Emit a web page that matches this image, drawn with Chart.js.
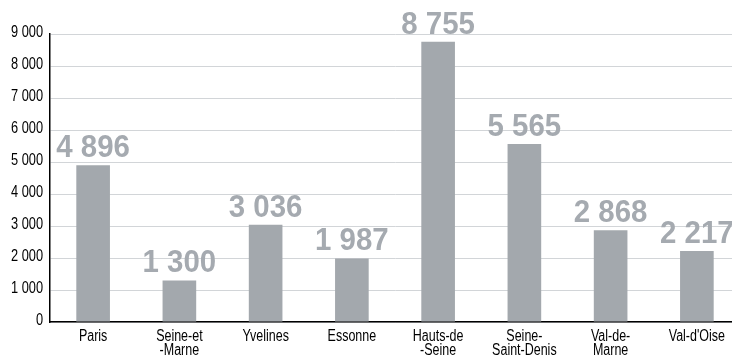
<!DOCTYPE html>
<html>
<head>
<meta charset="utf-8">
<script src="https://cdn.jsdelivr.net/npm/chart.js@4.4.1/dist/chart.umd.min.js"></script>
<style>
    html, body { margin: 0; padding: 0; background: #fff; overflow: hidden; }
    #wrap { width: 740px; height: 358px; }
</style>
</head>
<body>
<div id="wrap"><canvas id="deptChart"></canvas></div>
<script>
const departements = [
    ['Paris'], ['Seine-et', '-Marne'], ['Yvelines'], ['Essonne'],
    ['Hauts-de', '-Seine'], ['Seine-', 'Saint-Denis'], ['Val-de-', 'Marne'], ["Val-d'Oise"]
];
const effectifs = [4896, 1300, 3036, 1987, 8755, 5565, 2868, 2217];
const yTicks = [0, 1000, 2000, 3000, 4000, 5000, 6000, 7000, 8000, 9000];

const barGrey = '#a3a8ad';

// thousands with a space, french style
function fmt(n) {
    return String(n).replace(/\B(?=(\d{3})+(?!\d))/g, ' ');
}

// draw text squeezed horizontally (no condensed face available)
function narrowText(ctx, text, x, y, squeeze) {
    ctx.save();
    ctx.translate(x, y);
    ctx.scale(squeeze, 1);
    ctx.fillText(text, 0, 0);
    ctx.restore();
}

// axis labels in a narrow face, placed from the chart scales
const narrowTicks = {
    id: 'narrowTicks',
    afterDraw(chart) {
        const ctx = chart.ctx;
        const xs = chart.scales.x;
        const ys = chart.scales.y;
        ctx.save();
        ctx.fillStyle = '#000';
        ctx.font = '16px "Liberation Sans", Arial, sans-serif';

        ctx.textAlign = 'right';
        ctx.textBaseline = 'middle';
        yTicks.forEach(v => {
            narrowText(ctx, fmt(v), ys.left + ys.width - 7, ys.getPixelForValue(v) - 1, 0.8);
        });

        ctx.textAlign = 'center';
        ctx.textBaseline = 'top';
        departements.forEach((lines, i) => {
            const x = xs.getPixelForValue(i);
            lines.forEach((line, j) => {
                narrowText(ctx, line, x, xs.top + 7 + j * 14, 0.78);
            });
        });
        ctx.restore();
    }
};

// big grey figures above each bar
const valueLabels = {
    id: 'valueLabels',
    afterDatasetsDraw(chart) {
        const ctx = chart.ctx;
        const meta = chart.getDatasetMeta(0);
        ctx.save();
        ctx.font = 'bold 32px "Liberation Sans", Arial, sans-serif';
        ctx.fillStyle = '#a5aab0';
        ctx.textAlign = 'center';
        ctx.textBaseline = 'alphabetic';
        meta.data.forEach((bar, i) => {
            narrowText(ctx, fmt(effectifs[i]), bar.x, bar.y - 8, 0.92);
        });
        ctx.restore();
    }
};

const ctx = document.getElementById('deptChart').getContext('2d');
new Chart(ctx, {
    type: 'bar',
    data: {
        labels: departements,
        datasets: [{
            data: effectifs,
            backgroundColor: barGrey,
            borderWidth: 0,
            barPercentage: 0.39,
            categoryPercentage: 1
        }]
    },
    options: {
        responsive: true,
        maintainAspectRatio: false,
        animation: false,
        layout: {
            padding: { top: 34, right: 0, left: 0, bottom: 0 }
        },
        plugins: {
            legend: { display: false },
            tooltip: { enabled: false }
        },
        scales: {
            x: {
                grid: { display: false, drawTicks: false },
                border: { color: '#000', width: 1.5 },
                ticks: { display: false },
                afterFit: scale => { scale.height = 36; }
            },
            y: {
                min: 0,
                max: 9000,
                afterBuildTicks: scale => { scale.ticks = yTicks.map(v => ({ value: v })); },
                grid: { color: '#d2d5d8', lineWidth: 1, drawTicks: false },
                border: { color: '#000', width: 1.5 },
                ticks: { display: false },
                afterFit: scale => { scale.width = 50; }
            }
        }
    },
    plugins: [valueLabels, narrowTicks]
});
</script>
</body>
</html>
